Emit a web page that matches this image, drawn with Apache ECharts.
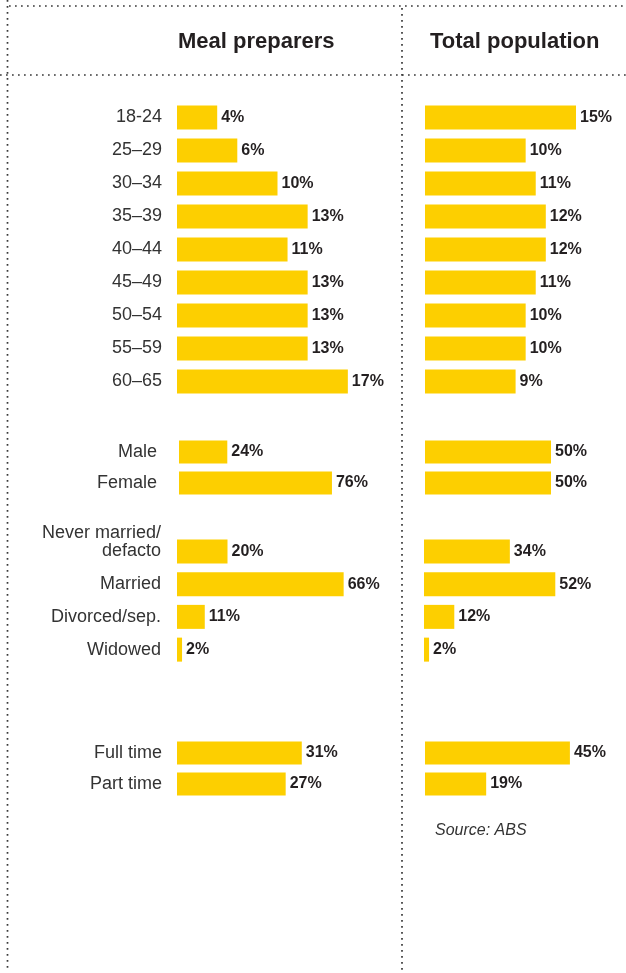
<!DOCTYPE html>
<html>
<head>
<meta charset="utf-8">
<script src="https://cdn.jsdelivr.net/npm/echarts@6/dist/echarts.min.js"></script>
<style>
html,body{margin:0;padding:0;background:#fff;}
#chart{width:626px;height:973px;}
</style>
</head>
<body>
<div id="chart"></div>
<script>
// ---- data ----
const panelTitles = ['Meal preparers', 'Total population'];
const ageGroups = ['18-24', '25–29', '30–34', '35–39', '40–44', '45–49', '50–54', '55–59', '60–65'];
const ageMeal = [4, 6, 10, 13, 11, 13, 13, 13, 17];
const ageTotal = [15, 10, 11, 12, 12, 11, 10, 10, 9];
const genders = ['Male', 'Female'];
const genderMeal = [24, 76];
const genderTotal = [50, 50];
const marital = ['Never married/\ndefacto', 'Married', 'Divorced/sep.', 'Widowed'];
const maritalMeal = [20, 66, 11, 2];
const maritalTotal = [34, 52, 12, 2];
const employment = ['Full time', 'Part time'];
const employmentMeal = [31, 27];
const employmentTotal = [45, 19];
const sourceText = 'Source: ABS';

// ---- layout / style ----
const FONT = '"Liberation Sans", Arial, Helvetica, sans-serif';
const YELLOW = '#FDCF00';
const groups = [
  {cats: ageGroups, meal: ageMeal, total: ageTotal, top: 101, height: 297, bw: 24, margin: 15,
   mealGrid: {left: 177, width: 201, max: 20}, totalGrid: {left: 425, width: 151, max: 15}},
  {cats: genders, meal: genderMeal, total: genderTotal, top: 436.5, height: 62, bw: 23, margin: 22,
   mealGrid: {left: 179, width: 161, max: 80}, totalGrid: {left: 425, width: 126, max: 50}},
  {cats: marital, meal: maritalMeal, total: maritalTotal, top: 535, height: 131, bw: 24, margin: 16,
   mealGrid: {left: 177, width: 202, max: 80}, totalGrid: {left: 424, width: 151.5, max: 60}},
  {cats: employment, meal: employmentMeal, total: employmentTotal, top: 737.5, height: 62, bw: 23, margin: 15,
   mealGrid: {left: 177, width: 161, max: 40}, totalGrid: {left: 425, width: 161, max: 50}}
];

const grid = [], xAxis = [], yAxis = [], series = [];
groups.forEach((g) => {
  [['meal', g.mealGrid], ['total', g.totalGrid]].forEach(([key, gr]) => {
    const idx = grid.length;
    grid.push({left: gr.left, width: gr.width, top: g.top, height: g.height, containLabel: false});
    xAxis.push({type: 'value', gridIndex: idx, min: 0, max: gr.max, show: false});
    yAxis.push({
      type: 'category', gridIndex: idx, inverse: true,
      data: g.cats,
      axisLine: {show: false}, axisTick: {show: false}, splitLine: {show: false},
      axisLabel: {
        show: key === 'meal', interval: 0, margin: g.margin,
        fontFamily: FONT, fontSize: 18, color: '#333333', align: 'right', lineHeight: 18,
        // two-line labels: keep the last line level with the bar
        formatter: (v) => v.indexOf('\n') >= 0 ? v + '\n ' : v
      }
    });
    series.push({
      type: 'bar', xAxisIndex: idx, yAxisIndex: idx,
      data: key === 'meal' ? g.meal : g.total,
      barWidth: g.bw,
      itemStyle: {color: YELLOW},
      silent: true,
      label: {
        show: true, position: 'right', distance: 4,
        formatter: '{c}%', fontFamily: FONT, fontSize: 16, fontWeight: 'bold', color: '#231F20'
      }
    });
  });
});

const dotted = {stroke: '#3a3a3a', lineWidth: 1.7, lineDash: [1.7, 4.3], lineCap: 'butt'};
const graphic = [
  {type: 'line', shape: {x1: 7.5, y1: 0, x2: 7.5, y2: 970}, style: dotted, silent: true},
  {type: 'line', shape: {x1: 9, y1: 6, x2: 626, y2: 6}, style: dotted, silent: true},
  {type: 'line', shape: {x1: 0, y1: 75, x2: 626, y2: 75}, style: dotted, silent: true},
  {type: 'line', shape: {x1: 402, y1: 8, x2: 402, y2: 973}, style: dotted, silent: true},
  {type: 'text', left: 178, top: 31, silent: true,
   style: {text: panelTitles[0], font: 'bold 22px ' + FONT, fill: '#231F20'}},
  {type: 'text', left: 430, top: 31, silent: true,
   style: {text: panelTitles[1], font: 'bold 22px ' + FONT, fill: '#231F20'}},
  {type: 'text', left: 435, top: 823, silent: true,
   style: {text: sourceText, font: 'italic 16px ' + FONT, fill: '#333333'}}
];

const chart = echarts.init(document.getElementById('chart'), null, {renderer: 'canvas'});
chart.setOption({
  backgroundColor: '#ffffff',
  animation: false,
  grid, xAxis, yAxis, series, graphic
});
</script>
</body>
</html>
